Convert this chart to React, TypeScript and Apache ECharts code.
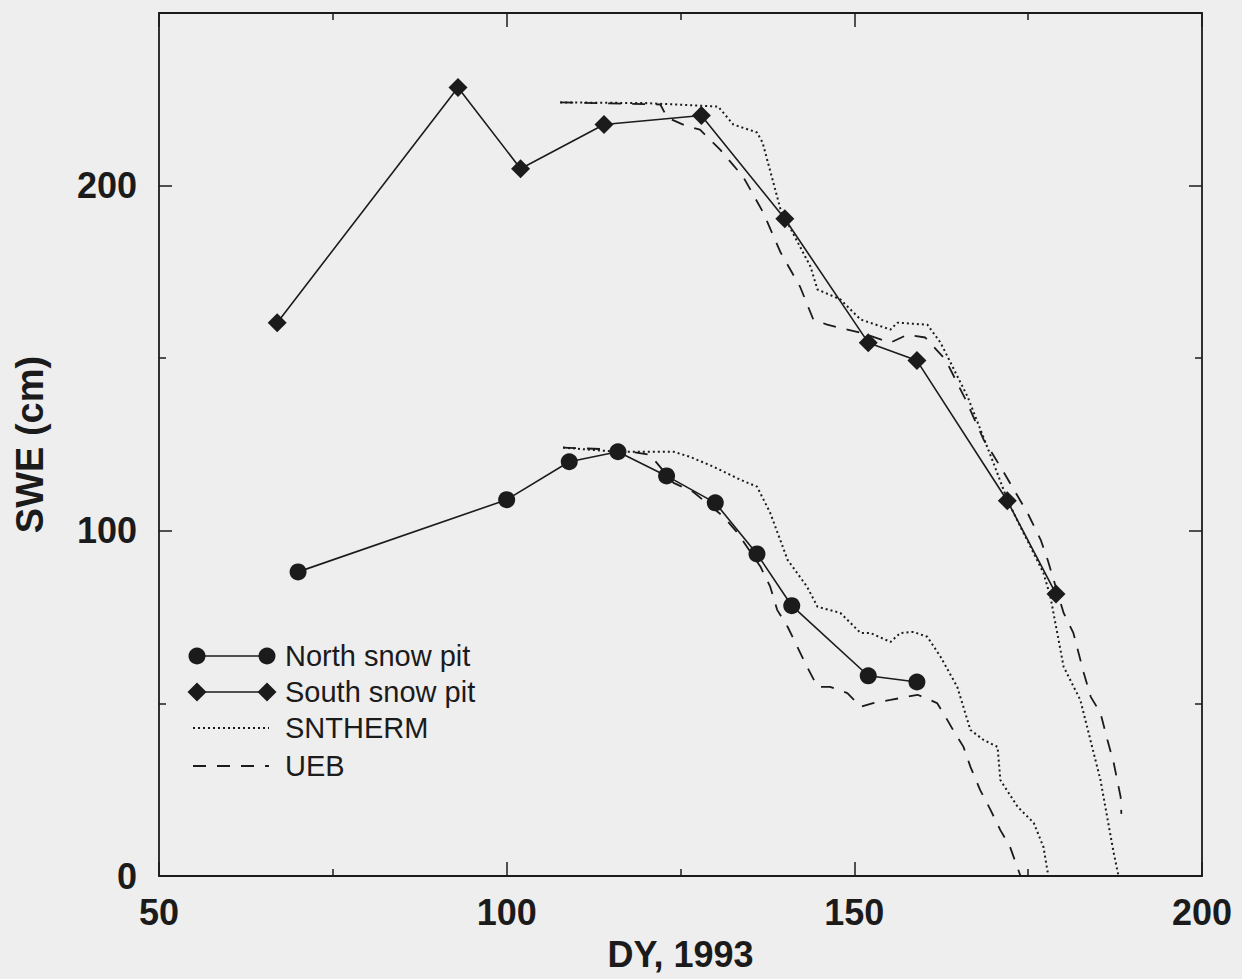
import React, { useEffect, useRef } from "react";
import * as echarts from "echarts";

const FONT = "'Liberation Sans', Arial, Helvetica, sans-serif";
const INK = "#1b1b1b";

// Observed snow pits
const northDay = [70, 100, 109, 116, 123, 130, 136, 141, 152, 159];
const northSWE = [88.1, 109.0, 120.0, 122.9, 115.9, 108.1, 93.3, 78.3, 58.0, 56.2];
const southDay = [67, 93, 102, 114, 128, 140, 152, 159, 172, 179];
const southSWE = [160.3, 228.4, 204.9, 217.7, 220.3, 190.4, 154.5, 149.3, 108.7, 81.7];

// SNTHERM model (dotted)
const sntSouthDay = [107.7, 120.0, 130.4, 132.6, 136.0, 136.8, 139.4, 143.7, 144.7, 148.0, 150.9, 155.2, 156.2, 160.5, 162.4, 166.3, 170.0, 172.0, 172.9, 177.2, 178.2, 180.1, 182.5, 185.4, 187.3, 188.0];
const sntSouthSWE = [224.1, 223.9, 222.9, 217.7, 215.4, 212.5, 193.0, 176.5, 169.9, 167.0, 161.2, 158.3, 160.3, 159.7, 154.5, 138.8, 119.7, 109.0, 105.2, 87.8, 80.9, 60.6, 51.0, 27.8, 6.7, 0];
const sntNorthDay = [108.1, 115.9, 124.0, 126.4, 129.7, 133.6, 136.0, 137.9, 140.4, 143.2, 144.7, 148.0, 150.9, 152.3, 155.2, 156.6, 158.5, 160.5, 162.4, 164.8, 166.7, 168.6, 170.6, 171.0, 173.5, 175.8, 177.2, 177.9];
const sntNorthSWE = [124.1, 122.9, 122.9, 121.4, 118.6, 114.8, 112.8, 105.2, 91.6, 83.8, 78.0, 76.2, 70.4, 70.4, 67.8, 70.4, 70.7, 69.3, 63.5, 54.8, 42.3, 39.4, 37.4, 27.8, 20.0, 15.4, 8.4, 0];

// UEB model (dashed)
const uebSouthDay = [107.7, 122.1, 123.1, 126.0, 127.8, 130.7, 134.0, 136.9, 139.4, 142.2, 144.1, 146.1, 149.0, 150.9, 155.2, 157.6, 160.2, 163.1, 166.0, 168.6, 171.0, 174.9, 176.8, 177.8, 180.1, 181.5, 183.0, 184.0, 185.4, 186.4, 187.3, 188.3, 188.4];
const uebSouthSWE = [224.1, 223.5, 219.7, 217.1, 216.2, 210.4, 202.6, 192.2, 180.6, 170.7, 161.2, 159.7, 158.3, 157.4, 154.5, 156.8, 156.0, 149.6, 138.0, 126.4, 118.6, 105.2, 97.4, 91.6, 76.2, 70.4, 58.8, 51.9, 47.2, 39.4, 32.8, 22.9, 18.0];
const uebNorthDay = [108.1, 115.9, 120.6, 124.0, 126.8, 131.2, 133.2, 136.5, 137.9, 138.9, 140.4, 141.8, 143.2, 144.7, 146.5, 149.0, 150.9, 152.7, 155.2, 159.1, 161.9, 162.8, 164.2, 165.7, 166.7, 168.1, 169.6, 171.0, 172.4, 173.9];
const uebNorthSWE = [124.1, 123.5, 122.0, 113.9, 111.3, 104.1, 99.4, 89.6, 83.8, 77.1, 72.2, 66.4, 60.6, 54.8, 54.8, 53.0, 49.0, 50.1, 51.0, 52.5, 50.1, 47.2, 42.3, 37.4, 31.6, 24.9, 19.1, 13.3, 8.4, 0];

const legendLabels = ["North snow pit", "South snow pit", "SNTHERM", "UEB"];
const xTitle = "DY, 1993";
const yTitle = "SWE (cm)";

const zip = (a: number[], b: number[]) => a.map((v, i) => [v, b[i]]);

const DOT: number[] = [2, 3];
const DASH: number[] = [13, 11];

export default function App() {
  const ref = useRef<HTMLDivElement>(null);
  useEffect(() => {
    if (!ref.current) return;
    const chart = echarts.init(ref.current, null, { renderer: "svg" });

    const axisLine = { show: true, onZero: false, lineStyle: { color: INK, width: 1.8 } };
    const xCommon = {
      type: "value",
      min: 50,
      max: 200,
      interval: 50,
      splitLine: { show: false },
      axisLine,
      axisTick: { show: true, inside: true, length: 14, lineStyle: { color: INK, width: 1.5 } },
      minorTick: { show: true, splitNumber: 2, length: 7, lineStyle: { color: INK, width: 1.5 } },
    };
    const yCommon = {
      type: "value",
      min: 0,
      max: 250,
      interval: 100,
      splitLine: { show: false },
      axisLine,
      axisTick: { show: true, inside: true, length: 13, lineStyle: { color: INK, width: 1.5 } },
      minorTick: { show: true, splitNumber: 2, length: 7, lineStyle: { color: INK, width: 1.5 } },
    };

    const lx = 197, rx = 267, tx = 285;
    const rows = [656, 692, 728, 766];
    const legendGraphics: any[] = [];
    legendGraphics.push({ type: "line", shape: { x1: lx, y1: rows[0], x2: rx, y2: rows[0] }, style: { stroke: INK, lineWidth: 1.5 } });
    legendGraphics.push({ type: "circle", shape: { cx: lx, cy: rows[0], r: 8.5 }, style: { fill: INK } });
    legendGraphics.push({ type: "circle", shape: { cx: rx, cy: rows[0], r: 8.5 }, style: { fill: INK } });
    legendGraphics.push({ type: "line", shape: { x1: lx, y1: rows[1], x2: rx, y2: rows[1] }, style: { stroke: INK, lineWidth: 1.5 } });
    [lx, rx].forEach((cx) => {
      legendGraphics.push({
        type: "polygon",
        shape: { points: [[cx, rows[1] - 9.5], [cx + 9.5, rows[1]], [cx, rows[1] + 9.5], [cx - 9.5, rows[1]]] },
        style: { fill: INK },
      });
    });
    legendGraphics.push({ type: "line", shape: { x1: lx - 4, y1: rows[2], x2: rx + 2, y2: rows[2] }, style: { stroke: INK, lineWidth: 2, lineDash: DOT } });
    legendGraphics.push({ type: "line", shape: { x1: lx - 4, y1: rows[3], x2: rx + 2, y2: rows[3] }, style: { stroke: INK, lineWidth: 1.8, lineDash: DASH } });
    legendLabels.forEach((t, i) => {
      legendGraphics.push({
        type: "text",
        x: tx,
        y: rows[i],
        style: { text: t, font: `29px ${FONT}`, fill: INK, verticalAlign: "middle" },
      });
    });

    const markerLine = (name: string, data: number[][], symbol: string, size: number) => ({
      type: "line",
      name,
      data,
      symbol,
      symbolSize: size,
      showAllSymbol: true,
      itemStyle: { color: INK },
      lineStyle: { color: INK, width: 1.6 },
      z: 5,
    });
    const modelLine = (name: string, data: number[][], dash: number[], w: number) => ({
      type: "line",
      name,
      data,
      symbol: "none",
      lineStyle: { color: INK, width: w, type: dash },
      z: 3,
    });

    chart.setOption({
      animation: false,
      backgroundColor: "#eeeeee",
      textStyle: { fontFamily: FONT },
      grid: { left: 159, right: 40, top: 13, bottom: 103, containLabel: false },
      xAxis: [
        {
          ...xCommon,
          position: "bottom",
          axisLabel: { show: true, fontSize: 36, fontWeight: "bold", color: INK, margin: 18, fontFamily: FONT },
          name: xTitle,
          nameLocation: "middle",
          nameGap: 60,
          nameTextStyle: { fontSize: 36, fontWeight: "bold", color: INK, fontFamily: FONT },
        },
        { ...xCommon, position: "top", axisLabel: { show: false } },
      ],
      yAxis: [
        {
          ...yCommon,
          position: "left",
          axisLabel: {
            show: true,
            fontSize: 36,
            fontWeight: "bold",
            color: INK,
            margin: 22,
            fontFamily: FONT,
            formatter: (v: number) => (v % 100 === 0 ? String(v) : ""),
          },
          name: yTitle,
          nameLocation: "middle",
          nameGap: 110,
          nameRotate: 90,
          nameTextStyle: { fontSize: 38, fontWeight: "bold", color: INK, fontFamily: FONT },
        },
        { ...yCommon, position: "right", axisLabel: { show: false } },
      ],
      series: [
        markerLine("North snow pit", zip(northDay, northSWE), "circle", 17),
        markerLine("South snow pit", zip(southDay, southSWE), "diamond", 19),
        modelLine("SNTHERM", zip(sntSouthDay, sntSouthSWE), DOT, 2),
        modelLine("SNTHERM", zip(sntNorthDay, sntNorthSWE), DOT, 2),
        modelLine("UEB", zip(uebSouthDay, uebSouthSWE), DASH, 1.8),
        modelLine("UEB", zip(uebNorthDay, uebNorthSWE), DASH, 1.8),
      ],
      graphic: legendGraphics,
    });
    return () => chart.dispose();
  }, []);
  return <div ref={ref} style={{ position: "fixed", left: 0, top: 0, width: 1242, height: 979 }} />;
}
